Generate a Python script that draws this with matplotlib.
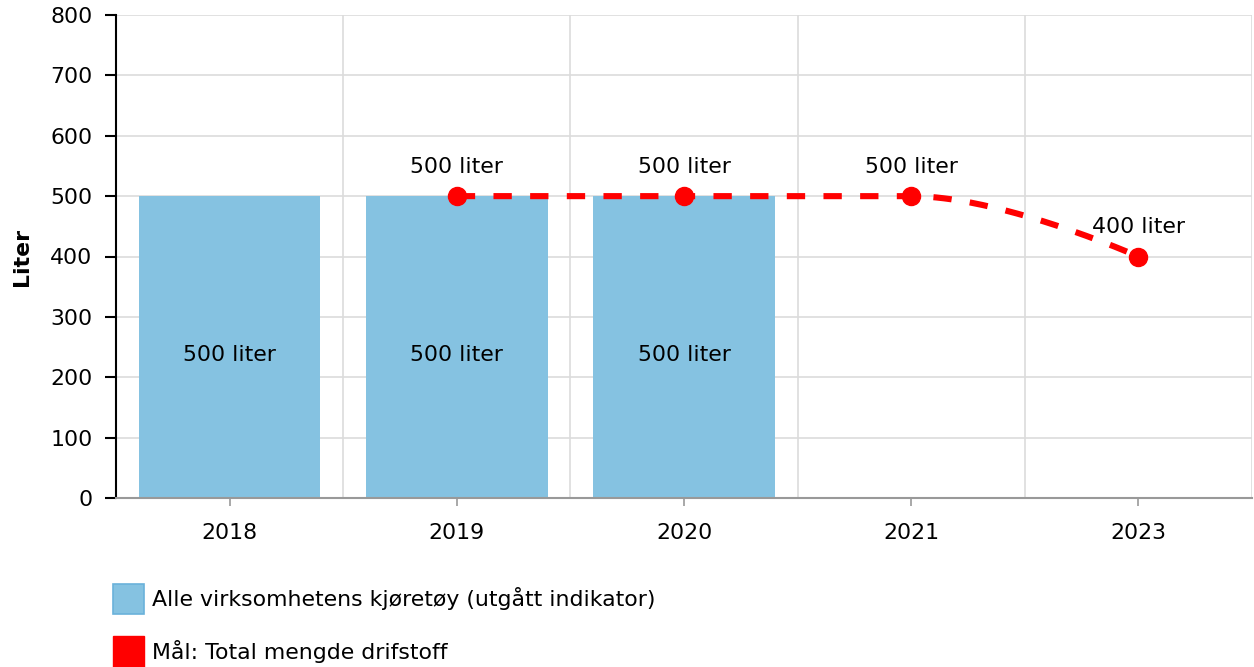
import numpy as np
import matplotlib
matplotlib.use("Agg")
import matplotlib.pyplot as plt
from matplotlib.patches import Patch

categories = ["2018", "2019", "2020", "2021", "2023"]
bar_values = [500, 500, 500, None, None]
goal_values = [None, 500, 500, 500, 400]
bar_name = "Alle virksomhetens kjøretøy (utgått indikator)"
goal_name = "Mål: Total mengde drifstoff"
y_ticks = [0, 100, 200, 300, 400, 500, 600, 700, 800]

BLUE = "#85c2e1"
RED = "#ff0000"
GRID = "#dcdcdc"
FS = 15.8

plt.rcParams['font.family'] = ['DejaVu Sans']
fig = plt.figure(figsize=(12.54, 6.67), dpi=100)
ax = fig.add_axes([116/1254, 1-498/667, (1252-116)/1254, (498-15)/667])

x = np.arange(len(categories))
bx = [i for i, v in enumerate(bar_values) if v is not None]
bv = [v for v in bar_values if v is not None]
ax.bar(bx, bv, width=0.8, color=BLUE, zorder=2)
for i, v in zip(bx, bv):
    ax.annotate(f"{v} liter", (i, v/2), xytext=(0, -6), textcoords="offset points",
                ha="center", va="center", fontsize=FS, color="black", zorder=5)

# Highcharts-style spline through the goal points (bezier with smoothing 1.5)
gx = np.array([i for i, v in enumerate(goal_values) if v is not None], dtype=float)
gy = np.array([v for v in goal_values if v is not None], dtype=float)
n = len(gx)
sm = 1.5
left = [None]*n
right = [None]*n
for k in range(1, n-1):
    lx = (sm*gx[k] + gx[k-1]) / (sm+1); ly = (sm*gy[k] + gy[k-1]) / (sm+1)
    rx = (sm*gx[k] + gx[k+1]) / (sm+1); ry = (sm*gy[k] + gy[k+1]) / (sm+1)
    corr = (ry-ly)*(rx-gx[k])/(rx-lx) + gy[k] - ry
    ly += corr; ry += corr
    if ly > gy[k-1] and ly > gy[k]:
        ly = max(gy[k-1], gy[k]); ry = 2*gy[k] - ly
    elif ly < gy[k-1] and ly < gy[k]:
        ly = min(gy[k-1], gy[k]); ry = 2*gy[k] - ly
    if ry > gy[k+1] and ry > gy[k]:
        ry = max(gy[k+1], gy[k]); ly = 2*gy[k] - ry
    elif ry < gy[k+1] and ry < gy[k]:
        ry = min(gy[k+1], gy[k]); ly = 2*gy[k] - ry
    left[k] = (lx, ly); right[k] = (rx, ry)
cx, cy = [], []
t = np.linspace(0, 1, 80)
for k in range(n-1):
    p0 = (gx[k], gy[k]); p3 = (gx[k+1], gy[k+1])
    p1 = right[k] if right[k] is not None else p0
    p2 = left[k+1] if left[k+1] is not None else p3
    b0 = (1-t)**3; b1 = 3*(1-t)**2*t; b2 = 3*(1-t)*t**2; b3 = t**3
    cx.extend(b0*p0[0] + b1*p1[0] + b2*p2[0] + b3*p3[0])
    cy.extend(b0*p0[1] + b1*p1[1] + b2*p2[1] + b3*p3[1])
ax.plot(cx, cy, color=RED, lw=4.4, dashes=(3.0, 3.0), zorder=3,
        dash_capstyle='butt')
ax.plot(gx, gy, 'o', color=RED, ms=13, zorder=4)
for i, v in zip(gx, gy):
    ax.annotate(f"{int(v)} liter", (i, v), xytext=(0, 21), textcoords="offset points",
                ha="center", va="center", fontsize=FS, color="black", zorder=5)

ax.set_xlim(-0.5, len(categories)-0.5)
ax.set_ylim(0, 800)
ax.set_yticks(y_ticks)
ax.set_xticks(x)
ax.set_xticklabels(categories)
ax.set_xticks(np.arange(-0.5, len(categories), 1.0), minor=True)
ax.grid(axis='y', color=GRID, lw=1.2, zorder=0)
ax.grid(axis='x', which='minor', color=GRID, lw=1.2, zorder=0)
ax.grid(axis='x', which='major', visible=False)
ax.set_axisbelow(True)
ax.tick_params(axis='y', labelsize=FS, length=8, width=1.5, color='black', pad=9)
ax.tick_params(axis='x', which='major', labelsize=FS, length=6, width=1.2, color='#999999', pad=12)
ax.tick_params(axis='x', which='minor', length=0)
for s in ['top', 'right']:
    ax.spines[s].set_visible(False)
ax.spines['left'].set_color('black')
ax.spines['left'].set_linewidth(1.5)
ax.spines['bottom'].set_color('#999999')
ax.spines['bottom'].set_linewidth(1.5)
ax.set_ylabel("Liter", fontsize=FS, fontweight='bold', labelpad=13)

handles = [Patch(facecolor=BLUE, edgecolor="#6ab2da", lw=1.2),
           Patch(facecolor=RED, edgecolor=RED)]
fig.legend(handles, [bar_name, goal_name], loc='upper left',
           bbox_to_anchor=(106/1254, 1-577/667), frameon=False, fontsize=FS,
           handlelength=1.41, handleheight=1.79, handletextpad=0.4, labelspacing=1.0,
           borderaxespad=0, borderpad=0.3)

fig.savefig("out.png", dpi=100)
